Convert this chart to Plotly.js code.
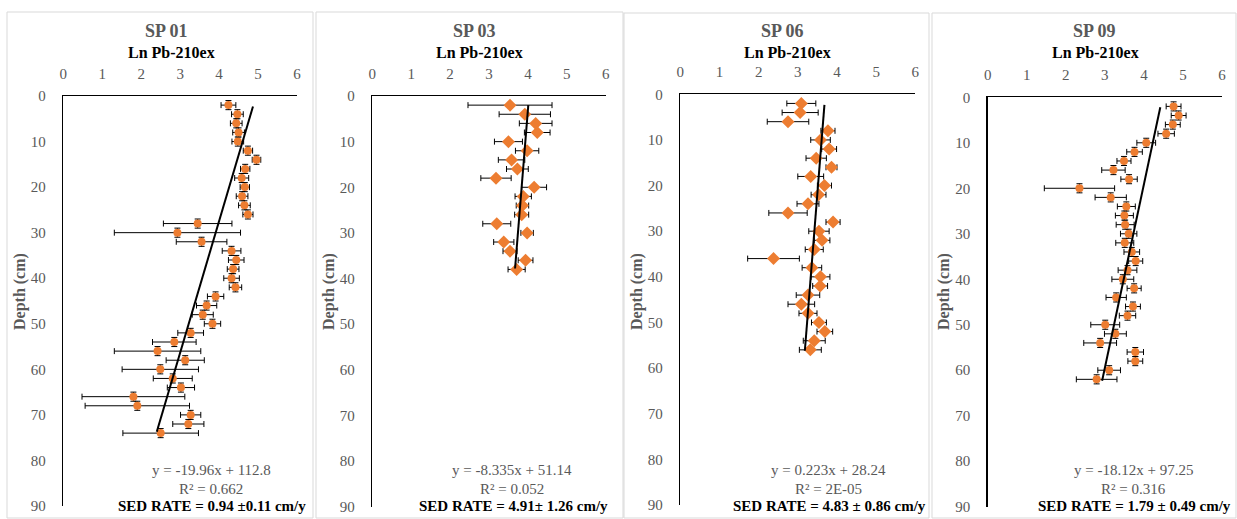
<!DOCTYPE html>
<html>
<head>
<meta charset="utf-8">
<script src="https://cdn.plot.ly/plotly-3.0.1.min.js"></script>
<style>html,body{margin:0;padding:0;background:#fff;}#chart{width:1237px;height:519px;}</style>
</head>
<body>
<div id="chart"></div>
<script>
// ---------- data ----------
const panelNames = ["SP 01", "SP 03", "SP 06", "SP 09"];
const xTitle = "Ln Pb-210ex";
const yTitle = "Depth (cm)";

const depth01 = [2,4,6,8,10,12,14,16,18,20,22,24,26,28,30,32,34,36,38,40,42,44,46,48,50,52,54,56,58,60,62,64,66,68,70,72,74];
const ln01 = [4.24,4.47,4.44,4.50,4.48,4.74,4.96,4.67,4.58,4.66,4.59,4.65,4.74,3.45,2.93,3.55,4.32,4.44,4.36,4.32,4.42,3.91,3.68,3.58,3.83,3.27,2.85,2.42,3.13,2.49,2.81,3.02,1.80,1.90,3.27,3.21,2.50];
const err01 = [0.19,0.15,0.15,0.15,0.15,0.12,0.11,0.12,0.18,0.12,0.15,0.15,0.13,0.88,1.62,0.65,0.24,0.20,0.15,0.20,0.16,0.21,0.26,0.27,0.21,0.33,0.56,1.11,0.49,0.98,0.50,0.35,1.32,1.34,0.26,0.40,0.97];

const depth03 = [2,4,6,8,10,12,14,16,18,20,22,24,26,28,30,32,34,36,38];
const ln03 = [3.54,3.92,4.20,4.24,3.50,3.98,3.58,3.73,3.18,4.16,3.88,3.86,3.84,3.20,3.98,3.38,3.54,3.94,3.71];
const err03 = [1.08,0.66,0.42,0.33,0.36,0.30,0.34,0.28,0.39,0.32,0.21,0.16,0.18,0.36,0.16,0.26,0.18,0.19,0.22];

const depth06 = [2,4,6,8,10,12,14,16,18,20,22,24,26,28,30,32,34,36,38,40,42,44,46,48,50,52,54,56];
const ln06 = [3.09,3.06,2.75,3.77,3.58,3.80,3.47,3.86,3.33,3.68,3.53,3.26,2.75,3.90,3.54,3.62,3.42,2.38,3.36,3.58,3.57,3.26,3.09,3.26,3.54,3.69,3.42,3.32];
const err06 = [0.37,0.46,0.53,0.18,0.25,0.19,0.26,0.14,0.33,0.18,0.19,0.28,0.49,0.18,0.26,0.20,0.23,0.66,0.25,0.24,0.19,0.30,0.34,0.23,0.19,0.20,0.28,0.28];

const depth09 = [2,4,6,8,10,12,14,16,18,20,22,24,26,28,30,32,34,36,38,40,42,44,46,48,50,52,54,56,58,60,62];
const ln09 = [4.76,4.89,4.74,4.57,4.06,3.76,3.49,3.22,3.62,2.35,3.15,3.55,3.50,3.52,3.61,3.51,3.69,3.79,3.58,3.46,3.75,3.29,3.72,3.58,3.01,3.27,2.88,3.78,3.78,3.11,2.79];
const err09 = [0.19,0.19,0.19,0.21,0.24,0.20,0.18,0.30,0.21,0.90,0.40,0.23,0.23,0.23,0.21,0.23,0.20,0.18,0.24,0.28,0.18,0.26,0.19,0.21,0.37,0.28,0.42,0.21,0.19,0.29,0.52];

// depth uncertainty (cm) shown on SP 01 and SP 09
const depthErr = [1, 0, 0, 1];

// trend lines as drawn (Ln value, depth)
const trend01X = [4.87, 2.40], trend01D = [2.3, 73.7];
const trend03X = [4.01, 3.67], trend03D = [2.0, 37.8];
const trend06X = [3.68, 3.18], trend06D = [2.3, 56.2];
const trend09X = [4.42, 2.93], trend09D = [2.2, 62.3];

const eqTexts = ["y = -19.96x + 112.8", "y = -8.335x + 51.14", "y = 0.223x + 28.24", "y = -18.12x + 97.25"];
const r2Texts = ["R² = 0.662", "R² = 0.052", "R² = 2E-05", "R² = 0.316"];
const rateTexts = ["SED RATE = 0.94 ±0.11 cm/y", "SED RATE = 4.91± 1.26 cm/y", "SED RATE = 4.83 ± 0.86 cm/y", "SED RATE = 1.79 ± 0.49 cm/y"];

const xTicks = [0,1,2,3,4,5,6];
const yTicks = [0,10,20,30,40,50,60,70,80,90];

// ---------- layout geometry (pixels) ----------
const W = 1237, H = 519;
const px = v => v / W;
const py = v => 1 - v / H;
const plotBox = [
  {x0: 63.3, x1: 297.0, y0: 96.0, y1: 506.0},
  {x0: 372.3, x1: 605.7, y0: 96.0, y1: 506.7},
  {x0: 680.3, x1: 915.3, y0: 94.3, y1: 505.0},
  {x0: 987.7, x1: 1222.0, y0: 97.3, y1: 506.7}
];
const frameBox = [
  {x0: 7, x1: 313, y0: 12, y1: 518},
  {x0: 316, x1: 623, y0: 12, y1: 518},
  {x0: 624, x1: 929, y0: 13, y1: 518},
  {x0: 932, x1: 1236, y0: 13, y1: 518}
];
const titleX = [166, 475, 783, 1094];
const subX = [171, 480, 788, 1095];
const eqX = [211, 512, 828, 1133];
const depthTitleX = [20, 329, 637, 944];
const markerSym = ["circle", "diamond", "diamond", "circle"];
const markerSize = [8, 10, 10, 8];

const depths = [depth01, depth03, depth06, depth09];
const lns = [ln01, ln03, ln06, ln09];
const errs = [err01, err03, err06, err09];
const trendXs = [trend01X, trend03X, trend06X, trend09X];
const trendDs = [trend01D, trend03D, trend06D, trend09D];

const serif = "Liberation Serif, Times New Roman, serif";
const gray = "#595959";

const traces = [];
const layout = {
  width: W, height: H,
  margin: {l: 0, r: 0, t: 0, b: 0},
  paper_bgcolor: "#ffffff",
  plot_bgcolor: "rgba(0,0,0,0)",
  showlegend: false,
  font: {family: serif, color: gray},
  shapes: [],
  annotations: []
};

for (let i = 0; i < 4; i++) {
  const s = i === 0 ? "" : String(i + 1);
  const xa = "x" + s, ya = "y" + s;
  const b = plotBox[i];
  traces.push({
    type: "scatter", mode: "markers",
    x: lns[i], y: depths[i], xaxis: xa, yaxis: ya,
    marker: {symbol: markerSym[i], size: markerSize[i], color: "#ED7D31", line: {width: 0}},
    error_x: {type: "data", array: errs[i], visible: true, color: "#000000", thickness: 1, width: 3},
    error_y: {type: "constant", value: depthErr[i], visible: depthErr[i] > 0, color: "#000000", thickness: 1, width: 3},
    hoverinfo: "x+y"
  });
  traces.push({
    type: "scatter", mode: "lines",
    x: trendXs[i], y: trendDs[i], xaxis: xa, yaxis: ya,
    line: {color: "#000000", width: 2},
    hoverinfo: "skip"
  });
  layout["xaxis" + s] = {
    domain: [px(b.x0), px(b.x1)], anchor: ya, side: "top",
    range: [0, 6], tickvals: xTicks, ticktext: xTicks.map(String),
    showgrid: false, zeroline: false,
    showline: true, linecolor: "#000000", linewidth: 1.5,
    ticks: "outside", ticklen: 10, tickcolor: "rgba(0,0,0,0)",
    tickfont: {family: serif, size: 15, color: gray},
    fixedrange: true
  };
  layout["yaxis" + s] = {
    domain: [py(b.y1), py(b.y0)], anchor: xa,
    range: [90, 0], tickvals: yTicks, ticktext: yTicks.map(String),
    showgrid: false, zeroline: false,
    showline: true, linecolor: "#000000", linewidth: 1.5,
    ticks: "outside", ticklen: 13, tickcolor: "rgba(0,0,0,0)",
    tickfont: {family: serif, size: 15, color: gray},
    fixedrange: true
  };
  const f = frameBox[i];
  layout.shapes.push({
    type: "rect", xref: "paper", yref: "paper",
    x0: px(f.x0), x1: px(f.x1), y0: py(f.y1), y1: py(f.y0),
    line: {color: "#D9D9D9", width: 1}, fillcolor: "rgba(0,0,0,0)", layer: "below"
  });
  layout.annotations.push(
    {xref: "paper", yref: "paper", x: px(titleX[i]), y: py(31), text: "<b>" + panelNames[i] + "</b>",
     showarrow: false, xanchor: "center", yanchor: "middle", font: {family: serif, size: 18, color: gray}},
    {xref: "paper", yref: "paper", x: px(subX[i]), y: py(52), text: "<b>" + xTitle + "</b>",
     showarrow: false, xanchor: "center", yanchor: "middle", font: {family: serif, size: 16, color: "#000000"}},
    {xref: "paper", yref: "paper", x: px(depthTitleX[i]), y: py(292), text: "<b>" + yTitle + "</b>",
     textangle: -90, showarrow: false, xanchor: "center", yanchor: "middle", font: {family: serif, size: 16, color: gray}},
    {xref: "paper", yref: "paper", x: px(eqX[i]), y: py(470), text: eqTexts[i],
     showarrow: false, xanchor: "center", yanchor: "middle", font: {family: serif, size: 15, color: gray}},
    {xref: "paper", yref: "paper", x: px(eqX[i]), y: py(489), text: r2Texts[i],
     showarrow: false, xanchor: "center", yanchor: "middle", font: {family: serif, size: 15, color: gray}},
    {xref: "paper", yref: "paper", x: px(eqX[i] + 1), y: py(506), text: "<b>" + rateTexts[i] + "</b>",
     showarrow: false, xanchor: "center", yanchor: "middle", font: {family: serif, size: 15, color: "#000000"}}
  );
}

Plotly.newPlot("chart", traces, layout, {displayModeBar: false, staticPlot: true});
</script>
</body>
</html>
